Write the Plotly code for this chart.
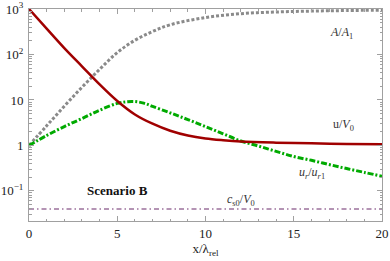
import plotly.graph_objects as go
import numpy as np

# Data
x_u = [0, 1, 2, 3, 4, 5, 6, 7, 8, 9, 10, 11, 12, 14, 16, 18, 20]
u_V0 = [1000, 370, 138, 55, 22, 9.5, 4.8, 3.0, 2.1, 1.65, 1.42, 1.3, 1.22, 1.15, 1.11, 1.08, 1.06]

x_A = [0, 1, 2, 3, 4, 5, 6, 7, 8, 10, 12, 14, 16, 18, 20]
A_A1 = [1, 2.7, 7.3, 19, 47, 110, 205, 320, 450, 650, 790, 860, 900, 925, 945]

x_ur = [0, 1, 2, 3, 4, 5, 5.5, 6, 6.5, 7, 8, 9, 10, 11, 12, 13, 14, 15, 16, 17, 18, 19, 20]
ur_ur1 = [1.0, 1.65, 2.6, 3.9, 5.95, 8.4, 9.1, 9.2, 8.5, 7.2, 5.2, 3.7, 2.6, 1.8, 1.25, 0.97, 0.74, 0.57, 0.47, 0.38, 0.31, 0.255, 0.21]

x_cs = [0, 20]
cs0_V0 = [0.04, 0.04]

y_tickvals = [0.1, 1, 10, 100, 1000]
y_ticktext = ["10<sup>\u22121</sup>", "1", "10", "10<sup>2</sup>", "10<sup>3</sup>"]
x_tickvals = [0, 5, 10, 15, 20]

FONT = "Liberation Serif"

fig = go.Figure()
fig.add_trace(go.Scatter(x=x_A, y=A_A1, mode="lines", line=dict(color="#8a8a8a", width=3, dash="3px,2px", shape="spline"), showlegend=False))
fig.add_trace(go.Scatter(x=x_ur, y=ur_ur1, mode="lines", line=dict(color="#00aa00", width=3, dash="6px,2px,2px,2px", shape="spline"), showlegend=False))
fig.add_trace(go.Scatter(x=x_u, y=u_V0, mode="lines", line=dict(color="#a00000", width=2.5, shape="spline"), showlegend=False))
fig.add_trace(go.Scatter(x=x_cs, y=cs0_V0, mode="lines", line=dict(color="#6b2a6b", width=1.2, dash="5px,3px,1.5px,3px"), showlegend=False))

minor_y = [k * 10.0**n for n in range(-2, 3) for k in range(2, 10)]
minor_y = [v for v in minor_y if 10**-1.662 <= v <= 1000]

axis_common = dict(showline=True, linecolor="#a0a0a0", linewidth=1, mirror="allticks",
                   ticks="inside", tickcolor="#a0a0a0", showgrid=False, zeroline=False,
                   automargin=False,
                   tickfont=dict(family=FONT, size=13, color="#222"))

fig.update_xaxes(range=[0, 20], tickvals=x_tickvals, ticklen=5,
                 minor=dict(ticks="inside", ticklen=2.5, tickcolor="#a0a0a0", dtick=1, tick0=0),
                 title=dict(text="x/\u03bb<sub>rel</sub>", font=dict(family=FONT, size=13, color="#222"), standoff=4),
                 **axis_common)
fig.update_yaxes(type="log", range=[-1.662, 3], tickvals=y_tickvals, ticktext=y_ticktext, ticklen=5,
                 ticklabelstandoff=2,
                 minor=dict(ticks="inside", ticklen=2.5, tickcolor="#a0a0a0", tickvals=minor_y),
                 **axis_common)

ann_font = dict(family=FONT, size=12, color="#333")
fig.add_annotation(x=17.73, y=np.log10(297), text="<i>A</i>/<i>A</i><sub>1</sub>", showarrow=False, font=ann_font)
fig.add_annotation(x=17.8, y=np.log10(2.81), text="u/<i>V</i><sub>0</sub>", showarrow=False, font=ann_font)
fig.add_annotation(x=16.03, y=np.log10(0.247), text="<i>u<sub>r</sub></i>/<i>u</i><sub><i>r</i>1</sub>", showarrow=False, font=ann_font)
fig.add_annotation(x=12.0, y=np.log10(0.063), text="<i>c</i><sub>s0</sub>/<i>V</i><sub>0</sub>", showarrow=False, font=ann_font)
fig.add_annotation(x=4.99, y=np.log10(0.1), text="<b>Scenario B</b>", showarrow=False, font=dict(family=FONT, size=13, color="#111"))

fig.update_layout(width=390, height=261, margin=dict(l=29, r=8, t=9, b=40),
                  plot_bgcolor="white", paper_bgcolor="white")

fig.write_html("out.html", config={"displayModeBar": False},
               post_script="document.body.style.margin='0';document.body.style.overflow='hidden';")
